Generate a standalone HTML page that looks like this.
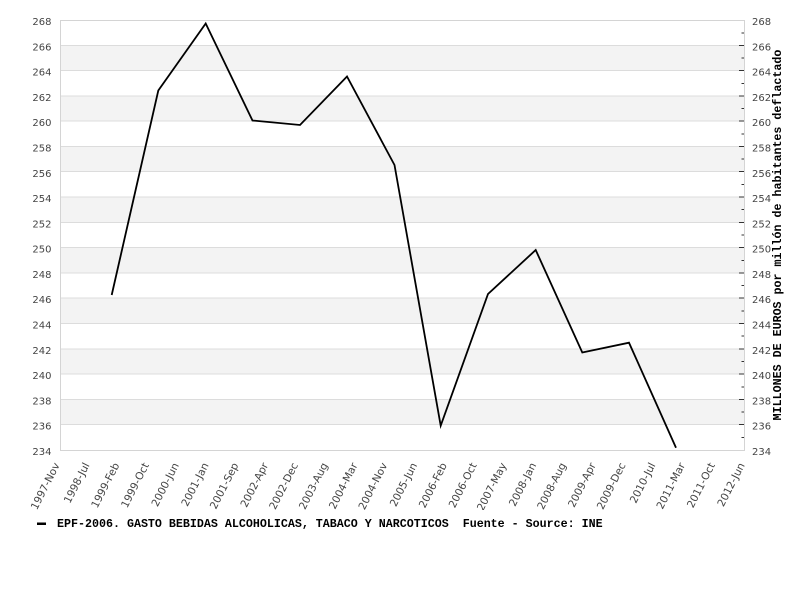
<!DOCTYPE html>
<html>
<head>
<meta charset="utf-8">
<style>
  html,body{margin:0;padding:0;background:#fff;}
  body{width:800px;height:600px;overflow:hidden;}
  svg{display:block;}
  .yl{font-family:"DejaVu Sans","Liberation Sans",sans-serif;font-size:10px;fill:#444;}
  .xl{font-family:"DejaVu Sans","Liberation Sans",sans-serif;font-size:10.5px;fill:#444;}
  .mono{font-family:"Liberation Mono","DejaVu Sans Mono",monospace;font-weight:bold;font-size:11.67px;fill:#000;}
</style>
</head>
<body>
<svg width="800" height="600" viewBox="0 0 800 600" xmlns="http://www.w3.org/2000/svg">
  <defs>
    <clipPath id="xc"><rect x="0" y="455" width="800" height="55"/></clipPath>
  </defs>
  <rect x="0" y="0" width="800" height="600" fill="#fff"/>
  <!-- bands -->
  <g fill="#f3f3f3">
    <rect x="60" y="45.29" width="684" height="25.29"/>
    <rect x="60" y="95.88" width="684" height="25.29"/>
    <rect x="60" y="146.47" width="684" height="25.29"/>
    <rect x="60" y="197.06" width="684" height="25.29"/>
    <rect x="60" y="247.65" width="684" height="25.29"/>
    <rect x="60" y="298.24" width="684" height="25.29"/>
    <rect x="60" y="348.82" width="684" height="25.29"/>
    <rect x="60" y="399.41" width="684" height="25.29"/>
  </g>
  <!-- gridlines -->
  <g stroke="#dcdcdc" stroke-width="1">
    <line x1="60" x2="744" y1="45.5" y2="45.5"/>
    <line x1="60" x2="744" y1="70.5" y2="70.5"/>
    <line x1="60" x2="744" y1="96" y2="96"/>
    <line x1="60" x2="744" y1="121" y2="121"/>
    <line x1="60" x2="744" y1="146.5" y2="146.5"/>
    <line x1="60" x2="744" y1="171.5" y2="171.5"/>
    <line x1="60" x2="744" y1="197" y2="197"/>
    <line x1="60" x2="744" y1="222.5" y2="222.5"/>
    <line x1="60" x2="744" y1="247.5" y2="247.5"/>
    <line x1="60" x2="744" y1="273" y2="273"/>
    <line x1="60" x2="744" y1="298" y2="298"/>
    <line x1="60" x2="744" y1="323.5" y2="323.5"/>
    <line x1="60" x2="744" y1="349" y2="349"/>
    <line x1="60" x2="744" y1="374" y2="374"/>
    <line x1="60" x2="744" y1="399.5" y2="399.5"/>
    <line x1="60" x2="744" y1="424.5" y2="424.5"/>
  </g>
  <!-- border -->
  <rect x="60.5" y="20.5" width="684" height="430" fill="none" stroke="#d4d4d4" stroke-width="1"/>
  <!-- right ticks -->
  <g stroke="#333" stroke-width="1">
    <line x1="739" x2="744" y1="45.5" y2="45.5"/><line x1="741.5" x2="744" y1="33" y2="33"/>
    <line x1="739" x2="744" y1="70.5" y2="70.5"/><line x1="741.5" x2="744" y1="58" y2="58"/>
    <line x1="739" x2="744" y1="96" y2="96"/><line x1="741.5" x2="744" y1="83.5" y2="83.5"/>
    <line x1="739" x2="744" y1="121" y2="121"/><line x1="741.5" x2="744" y1="108.5" y2="108.5"/>
    <line x1="739" x2="744" y1="146.5" y2="146.5"/><line x1="741.5" x2="744" y1="134" y2="134"/>
    <line x1="739" x2="744" y1="171.5" y2="171.5"/><line x1="741.5" x2="744" y1="159" y2="159"/>
    <line x1="739" x2="744" y1="197" y2="197"/><line x1="741.5" x2="744" y1="184.5" y2="184.5"/>
    <line x1="739" x2="744" y1="222.5" y2="222.5"/><line x1="741.5" x2="744" y1="209.5" y2="209.5"/>
    <line x1="739" x2="744" y1="247.5" y2="247.5"/><line x1="741.5" x2="744" y1="235" y2="235"/>
    <line x1="739" x2="744" y1="273" y2="273"/><line x1="741.5" x2="744" y1="260.5" y2="260.5"/>
    <line x1="739" x2="744" y1="298" y2="298"/><line x1="741.5" x2="744" y1="285.5" y2="285.5"/>
    <line x1="739" x2="744" y1="323.5" y2="323.5"/><line x1="741.5" x2="744" y1="311" y2="311"/>
    <line x1="739" x2="744" y1="349" y2="349"/><line x1="741.5" x2="744" y1="336" y2="336"/>
    <line x1="739" x2="744" y1="374" y2="374"/><line x1="741.5" x2="744" y1="361.5" y2="361.5"/>
    <line x1="739" x2="744" y1="399.5" y2="399.5"/><line x1="741.5" x2="744" y1="387" y2="387"/>
    <line x1="739" x2="744" y1="424.5" y2="424.5"/><line x1="741.5" x2="744" y1="412" y2="412"/>
    <line x1="741.5" x2="744" y1="437.5" y2="437.5"/>
  </g>
  <!-- left y labels -->
  <g class="yl" text-anchor="end">
    <text x="51.5" y="25">268</text>
    <text x="51.5" y="50.3">266</text>
    <text x="51.5" y="75.6">264</text>
    <text x="51.5" y="100.9">262</text>
    <text x="51.5" y="126.2">260</text>
    <text x="51.5" y="151.5">258</text>
    <text x="51.5" y="176.8">256</text>
    <text x="51.5" y="202.1">254</text>
    <text x="51.5" y="227.4">252</text>
    <text x="51.5" y="252.6">250</text>
    <text x="51.5" y="277.9">248</text>
    <text x="51.5" y="303.2">246</text>
    <text x="51.5" y="328.5">244</text>
    <text x="51.5" y="353.8">242</text>
    <text x="51.5" y="379.1">240</text>
    <text x="51.5" y="404.4">238</text>
    <text x="51.5" y="429.7">236</text>
    <text x="51.5" y="455">234</text>
  </g>
  <!-- right y labels -->
  <g class="yl" text-anchor="start">
    <text x="752" y="25">268</text>
    <text x="752" y="50.3">266</text>
    <text x="752" y="75.6">264</text>
    <text x="752" y="100.9">262</text>
    <text x="752" y="126.2">260</text>
    <text x="752" y="151.5">258</text>
    <text x="752" y="176.8">256</text>
    <text x="752" y="202.1">254</text>
    <text x="752" y="227.4">252</text>
    <text x="752" y="252.6">250</text>
    <text x="752" y="277.9">248</text>
    <text x="752" y="303.2">246</text>
    <text x="752" y="328.5">244</text>
    <text x="752" y="353.8">242</text>
    <text x="752" y="379.1">240</text>
    <text x="752" y="404.4">238</text>
    <text x="752" y="429.7">236</text>
    <text x="752" y="455">234</text>
  </g>
  <!-- right axis title -->
  <text class="mono" text-anchor="middle" transform="translate(781,235) rotate(-90)">MILLONES DE EUROS por millón de habitantes deflactado</text>
  <!-- x labels -->
  <g class="xl" text-anchor="end" clip-path="url(#xc)">
    <text transform="translate(60,465) rotate(-63)">1997-Nov</text>
    <text transform="translate(89.8,465) rotate(-63)">1998-Jul</text>
    <text transform="translate(119.6,465) rotate(-63)">1999-Feb</text>
    <text transform="translate(149.3,465) rotate(-63)">1999-Oct</text>
    <text transform="translate(179.1,465) rotate(-63)">2000-Jun</text>
    <text transform="translate(208.9,465) rotate(-63)">2001-Jan</text>
    <text transform="translate(238.7,465) rotate(-63)">2001-Sep</text>
    <text transform="translate(268.5,465) rotate(-63)">2002-Apr</text>
    <text transform="translate(298.3,465) rotate(-63)">2002-Dec</text>
    <text transform="translate(328,465) rotate(-63)">2003-Aug</text>
    <text transform="translate(357.8,465) rotate(-63)">2004-Mar</text>
    <text transform="translate(387.6,465) rotate(-63)">2004-Nov</text>
    <text transform="translate(417.4,465) rotate(-63)">2005-Jun</text>
    <text transform="translate(447.2,465) rotate(-63)">2006-Feb</text>
    <text transform="translate(477,465) rotate(-63)">2006-Oct</text>
    <text transform="translate(506.7,465) rotate(-63)">2007-May</text>
    <text transform="translate(536.5,465) rotate(-63)">2008-Jan</text>
    <text transform="translate(566.3,465) rotate(-63)">2008-Aug</text>
    <text transform="translate(596.1,465) rotate(-63)">2009-Apr</text>
    <text transform="translate(625.9,465) rotate(-63)">2009-Dec</text>
    <text transform="translate(655.7,465) rotate(-63)">2010-Jul</text>
    <text transform="translate(685.4,465) rotate(-63)">2011-Mar</text>
    <text transform="translate(715.2,465) rotate(-63)">2011-Oct</text>
    <text transform="translate(745,465) rotate(-63)">2012-Jun</text>
  </g>
  <!-- series -->
  <polyline fill="none" stroke="#000" stroke-width="1.8" stroke-linejoin="miter"
    points="111.7,295 158.3,90.5 205.7,23.5 252.5,120.5 300,125 347,76.5 394.5,165 440.7,425.7 488,294 535.7,250 582.3,352.5 629,342.7 676,447.7"/>
  <!-- legend -->
  <rect x="37" y="522.5" width="9" height="2.5" fill="#000"/>
  <text class="mono" x="57" y="527" xml:space="preserve">EPF-2006. GASTO BEBIDAS ALCOHOLICAS, TABACO Y NARCOTICOS  Fuente - Source: INE</text>
</svg>
</body>
</html>
